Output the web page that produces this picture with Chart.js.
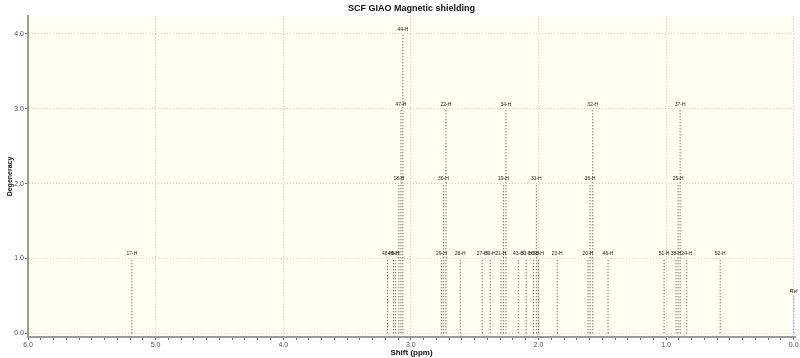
<!DOCTYPE html>
<html>
<head>
<meta charset="utf-8">
<script src="https://cdn.jsdelivr.net/npm/chart.js@4"></script>
<style>html,body{margin:0;padding:0;background:#fff}</style>
</head>
<body>
<canvas id="chart" width="800" height="358"></canvas>
<script>
// shifts (ppm), degeneracy and atom labels
const shifts = [5.186, 3.183, 3.136, 3.120, 3.094, 3.078, 3.063, 2.761, 2.745, 2.725, 2.613, 2.441,
  2.378, 2.294, 2.275, 2.255, 2.158, 2.096, 2.038, 2.017, 2.000, 1.853, 1.612, 1.596, 1.575, 1.455,
  1.016, 0.922, 0.906, 0.890, 0.838, 0.576];
const degeneracy = [1, 1, 1, 1, 2, 3, 4, 1, 2, 3, 1, 1,
  1, 1, 2, 3, 1, 1, 1, 2, 1, 1, 1, 2, 3, 1,
  1, 1, 2, 3, 1, 1];
const atomLabels = ['17-H', '48-H', '40-H', '5-H', '18-H', '47-H', '44-H', '29-H', '30-H', '22-H', '28-H', '27-H',
  '39-H', '21-H', '19-H', '34-H', '43-H', '33-H', '16-H', '31-H', '53-H', '23-H', '20-H', '36-H', '32-H', '46-H',
  '51-H', '38-H', '25-H', '37-H', '24-H', '52-H'];
const refShift = [0.0];
const refHeight = [0.5];
const refLabel = ['Ref'];
const xMajorTicks = [6, 5, 4, 3, 2, 1, 0];
const yTicks = [0, 1, 2, 3, 4];

const FONT = '"Liberation Sans", Arial, sans-serif';

function sticks(xs, hs) {
  const pts = [];
  xs.forEach((x, i) => { pts.push({ x: x, y: 0 }, { x: x, y: hs[i] }, { x: x, y: null }); });
  return pts;
}

const plotBackground = {
  id: 'plotBackground',
  beforeDraw(chart) {
    const { ctx, chartArea: a } = chart;
    ctx.save();
    ctx.fillStyle = '#fffff2';
    ctx.fillRect(a.left, a.top, a.right - a.left, a.bottom - a.top);
    ctx.restore();
  }
};

const stickLabels = {
  id: 'stickLabels',
  afterDatasetsDraw(chart) {
    const { ctx, scales: { x, y }, chartArea: a } = chart;
    ctx.save();
    ctx.font = '5px ' + FONT;
    ctx.fillStyle = '#222';
    ctx.textAlign = 'center';
    ctx.textBaseline = 'bottom';
    shifts.forEach((s, i) => {
      ctx.fillText(atomLabels[i], x.getPixelForValue(s), y.getPixelForValue(degeneracy[i]) - 2);
    });
    refShift.forEach((s, i) => {
      ctx.fillText(refLabel[i], x.getPixelForValue(s), y.getPixelForValue(refHeight[i]) - 2);
    });
    // main title centred over the plot
    ctx.font = 'bold 9px ' + FONT;
    ctx.fillStyle = '#111';
    ctx.textBaseline = 'middle';
    ctx.fillText('SCF GIAO Magnetic shielding', (a.left + a.right) / 2, 9);
    ctx.restore();
  }
};

new Chart(document.getElementById('chart'), {
  type: 'line',
  data: {
    datasets: [
      {
        label: 'H',
        data: sticks(shifts, degeneracy),
        borderColor: '#444',
        borderWidth: 1,
        borderDash: [1, 2],
        pointRadius: 0,
        spanGaps: false
      },
      {
        label: 'Ref',
        data: sticks(refShift, refHeight),
        borderColor: '#4a4aff',
        borderWidth: 1,
        borderDash: [1, 2],
        pointRadius: 0,
        spanGaps: false
      }
    ]
  },
  options: {
    responsive: false,
    animation: false,
    layout: { padding: { top: 16, right: 5, left: 0, bottom: 0 } },
    plugins: {
      legend: { display: false },
      tooltip: { enabled: false },
      title: { display: false }
    },
    scales: {
      x: {
        type: 'linear',
        reverse: true,
        min: -0.01,
        max: 6.0,
        afterBuildTicks(scale) {
          const t = [];
          for (let i = 0; i <= 60; i++) t.push({ value: i / 10 });
          scale.ticks = t;
        },
        afterFit(scale) { scale.height = 21; },
        ticks: {
          autoSkip: false,
          maxRotation: 0,
          padding: 1,
          color: '#555',
          font: { family: FONT, size: 7 },
          callback(v) {
            return xMajorTicks.some(m => Math.abs(m - v) < 1e-6) ? Number(v).toFixed(1) : '';
          }
        },
        grid: {
          color(ctx) {
            const v = ctx.tick ? ctx.tick.value : 0;
            return Math.abs(v - Math.round(v)) < 1e-6 ? '#cfcfcf' : 'rgba(0,0,0,0)';
          },
          tickColor: '#777',
          tickLength: 3,
          tickBorderDash: []
        },
        border: { color: '#999', width: 2, dash: [1, 2] },
        title: {
          display: true,
          text: 'Shift (ppm)',
          color: '#111',
          font: { family: FONT, size: 8, weight: 'bold' },
          padding: { top: 0, bottom: 0 }
        }
      },
      y: {
        type: 'linear',
        min: -0.05,
        max: 4.24,
        afterBuildTicks(scale) { scale.ticks = yTicks.map(v => ({ value: v })); },
        afterFit(scale) { scale.width = 28; },
        ticks: {
          padding: 1,
          color: '#555',
          font: { family: FONT, size: 7 },
          callback(v) { return Number(v).toFixed(1); }
        },
        grid: {
          color: '#cfcfcf',
          tickColor: '#777',
          tickLength: 3,
          tickBorderDash: []
        },
        border: { color: '#999', width: 2, dash: [1, 2] },
        title: {
          display: true,
          text: 'Degeneracy',
          color: '#111',
          font: { family: FONT, size: 7, weight: 'bold' },
          padding: { top: 6, bottom: 0 }
        }
      }
    }
  },
  plugins: [plotBackground, stickLabels]
});
</script>
</body>
</html>
